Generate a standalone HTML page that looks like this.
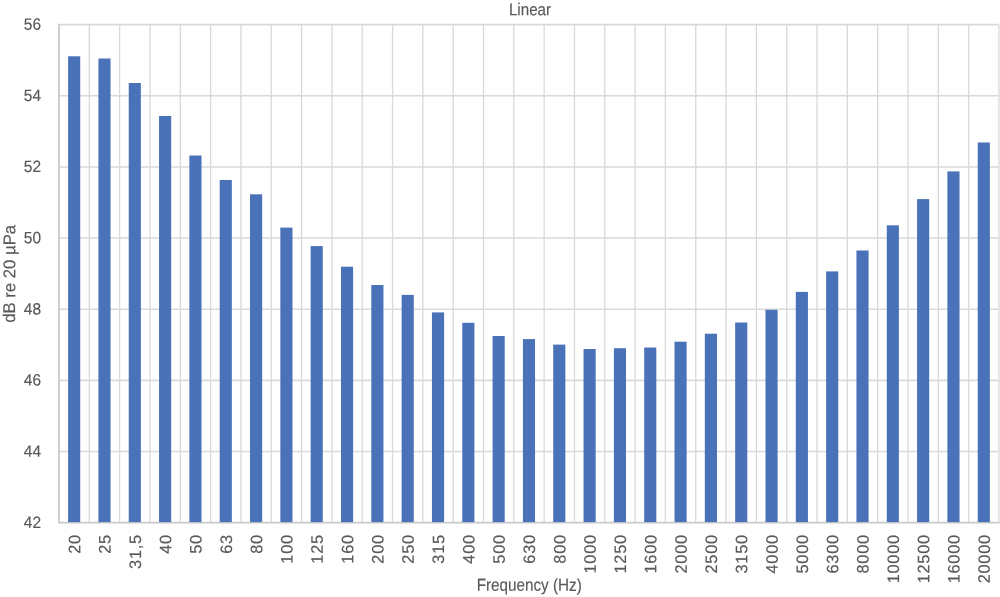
<!DOCTYPE html>
<html lang="en"><head><meta charset="utf-8"><title>Linear</title>
<style>html,body{margin:0;padding:0;background:#fff;overflow:hidden}svg{display:block}text{font-family:"Liberation Sans",sans-serif;fill:#595959;stroke:#595959;stroke-width:0.15}</style>
</head><body>
<svg width="1000" height="597" viewBox="0 0 1000 597">
<rect x="0" y="0" width="1000" height="597" fill="#fff"/>
<g stroke="#D9D9D9" stroke-width="1.55" fill="none">
<line x1="59.00" y1="24.60" x2="998.95" y2="24.60"/>
<line x1="59.00" y1="95.76" x2="998.95" y2="95.76"/>
<line x1="59.00" y1="166.91" x2="998.95" y2="166.91"/>
<line x1="59.00" y1="238.07" x2="998.95" y2="238.07"/>
<line x1="59.00" y1="309.23" x2="998.95" y2="309.23"/>
<line x1="59.00" y1="380.39" x2="998.95" y2="380.39"/>
<line x1="59.00" y1="451.54" x2="998.95" y2="451.54"/>
</g>
<g stroke="#D9D9D9" stroke-width="1.3" fill="none">
<line x1="89.32" y1="24.60" x2="89.32" y2="522.70"/>
<line x1="119.64" y1="24.60" x2="119.64" y2="522.70"/>
<line x1="149.96" y1="24.60" x2="149.96" y2="522.70"/>
<line x1="180.28" y1="24.60" x2="180.28" y2="522.70"/>
<line x1="210.60" y1="24.60" x2="210.60" y2="522.70"/>
<line x1="240.93" y1="24.60" x2="240.93" y2="522.70"/>
<line x1="271.25" y1="24.60" x2="271.25" y2="522.70"/>
<line x1="301.57" y1="24.60" x2="301.57" y2="522.70"/>
<line x1="331.89" y1="24.60" x2="331.89" y2="522.70"/>
<line x1="362.21" y1="24.60" x2="362.21" y2="522.70"/>
<line x1="392.53" y1="24.60" x2="392.53" y2="522.70"/>
<line x1="422.85" y1="24.60" x2="422.85" y2="522.70"/>
<line x1="453.17" y1="24.60" x2="453.17" y2="522.70"/>
<line x1="483.49" y1="24.60" x2="483.49" y2="522.70"/>
<line x1="513.81" y1="24.60" x2="513.81" y2="522.70"/>
<line x1="544.14" y1="24.60" x2="544.14" y2="522.70"/>
<line x1="574.46" y1="24.60" x2="574.46" y2="522.70"/>
<line x1="604.78" y1="24.60" x2="604.78" y2="522.70"/>
<line x1="635.10" y1="24.60" x2="635.10" y2="522.70"/>
<line x1="665.42" y1="24.60" x2="665.42" y2="522.70"/>
<line x1="695.74" y1="24.60" x2="695.74" y2="522.70"/>
<line x1="726.06" y1="24.60" x2="726.06" y2="522.70"/>
<line x1="756.38" y1="24.60" x2="756.38" y2="522.70"/>
<line x1="786.70" y1="24.60" x2="786.70" y2="522.70"/>
<line x1="817.02" y1="24.60" x2="817.02" y2="522.70"/>
<line x1="847.35" y1="24.60" x2="847.35" y2="522.70"/>
<line x1="877.67" y1="24.60" x2="877.67" y2="522.70"/>
<line x1="907.99" y1="24.60" x2="907.99" y2="522.70"/>
<line x1="938.31" y1="24.60" x2="938.31" y2="522.70"/>
<line x1="968.63" y1="24.60" x2="968.63" y2="522.70"/>
<line x1="998.95" y1="24.60" x2="998.95" y2="522.70"/>
</g>
<g stroke="#C9C9C9" stroke-width="1.75" fill="none" stroke-linejoin="round" stroke-linecap="round">
<path d="M59.00 24.60 V522.70 H998.95"/>
</g>
<g fill="#4972B9">
<rect x="68.10" y="56.30" width="12.13" height="465.80"/>
<rect x="98.42" y="58.50" width="12.13" height="463.60"/>
<rect x="128.74" y="83.00" width="12.13" height="439.10"/>
<rect x="159.06" y="116.00" width="12.13" height="406.10"/>
<rect x="189.38" y="155.50" width="12.13" height="366.60"/>
<rect x="219.70" y="180.00" width="12.13" height="342.10"/>
<rect x="250.02" y="194.30" width="12.13" height="327.80"/>
<rect x="280.34" y="227.60" width="12.13" height="294.50"/>
<rect x="310.66" y="246.10" width="12.13" height="276.00"/>
<rect x="340.99" y="266.70" width="12.13" height="255.40"/>
<rect x="371.31" y="285.00" width="12.13" height="237.10"/>
<rect x="401.63" y="294.90" width="12.13" height="227.20"/>
<rect x="431.95" y="312.40" width="12.13" height="209.70"/>
<rect x="462.27" y="322.80" width="12.13" height="199.30"/>
<rect x="492.59" y="336.00" width="12.13" height="186.10"/>
<rect x="522.91" y="339.10" width="12.13" height="183.00"/>
<rect x="553.23" y="344.60" width="12.13" height="177.50"/>
<rect x="583.55" y="349.00" width="12.13" height="173.10"/>
<rect x="613.87" y="348.20" width="12.13" height="173.90"/>
<rect x="644.19" y="347.50" width="12.13" height="174.60"/>
<rect x="674.52" y="341.70" width="12.13" height="180.40"/>
<rect x="704.84" y="333.70" width="12.13" height="188.40"/>
<rect x="735.16" y="322.50" width="12.13" height="199.60"/>
<rect x="765.48" y="309.80" width="12.13" height="212.30"/>
<rect x="795.80" y="291.90" width="12.13" height="230.20"/>
<rect x="826.12" y="271.40" width="12.13" height="250.70"/>
<rect x="856.44" y="250.50" width="12.13" height="271.60"/>
<rect x="886.76" y="225.30" width="12.13" height="296.80"/>
<rect x="917.08" y="199.10" width="12.13" height="323.00"/>
<rect x="947.40" y="171.40" width="12.13" height="350.70"/>
<rect x="977.73" y="142.50" width="12.13" height="379.60"/>
</g>
<g font-size="15.5" text-anchor="end">
<text transform="matrix(1,0.002,0,1.053,41.10,29.80)">56</text>
<text transform="matrix(1,0.002,0,1.053,41.10,100.96)">54</text>
<text transform="matrix(1,0.002,0,1.053,41.10,172.11)">52</text>
<text transform="matrix(1,0.002,0,1.053,41.10,243.27)">50</text>
<text transform="matrix(1,0.002,0,1.053,41.10,314.43)">48</text>
<text transform="matrix(1,0.002,0,1.053,41.10,385.59)">46</text>
<text transform="matrix(1,0.002,0,1.053,41.10,456.74)">44</text>
<text transform="matrix(1,0.002,0,1.053,41.10,527.90)">42</text>
</g>
<g font-size="16.6" text-anchor="end" letter-spacing="0.75">
<text transform="translate(80.31,534.16) rotate(-90) matrix(0.985,0.002,0,1,0,0)">20</text>
<text transform="translate(110.63,534.16) rotate(-90) matrix(0.985,0.002,0,1,0,0)">25</text>
<text transform="translate(140.95,534.16) rotate(-90) matrix(0.985,0.002,0,1,0,0)">31,5</text>
<text transform="translate(171.27,534.16) rotate(-90) matrix(0.985,0.002,0,1,0,0)">40</text>
<text transform="translate(201.59,534.16) rotate(-90) matrix(0.985,0.002,0,1,0,0)">50</text>
<text transform="translate(231.92,534.16) rotate(-90) matrix(0.985,0.002,0,1,0,0)">63</text>
<text transform="translate(262.24,534.16) rotate(-90) matrix(0.985,0.002,0,1,0,0)">80</text>
<text transform="translate(292.56,534.16) rotate(-90) matrix(0.985,0.002,0,1,0,0)">100</text>
<text transform="translate(322.88,534.16) rotate(-90) matrix(0.985,0.002,0,1,0,0)">125</text>
<text transform="translate(353.20,534.16) rotate(-90) matrix(0.985,0.002,0,1,0,0)">160</text>
<text transform="translate(383.52,534.16) rotate(-90) matrix(0.985,0.002,0,1,0,0)">200</text>
<text transform="translate(413.84,534.16) rotate(-90) matrix(0.985,0.002,0,1,0,0)">250</text>
<text transform="translate(444.16,534.16) rotate(-90) matrix(0.985,0.002,0,1,0,0)">315</text>
<text transform="translate(474.48,534.16) rotate(-90) matrix(0.985,0.002,0,1,0,0)">400</text>
<text transform="translate(504.80,534.16) rotate(-90) matrix(0.985,0.002,0,1,0,0)">500</text>
<text transform="translate(535.12,534.16) rotate(-90) matrix(0.985,0.002,0,1,0,0)">630</text>
<text transform="translate(565.45,534.16) rotate(-90) matrix(0.985,0.002,0,1,0,0)">800</text>
<text transform="translate(595.77,534.16) rotate(-90) matrix(0.985,0.002,0,1,0,0)">1000</text>
<text transform="translate(626.09,534.16) rotate(-90) matrix(0.985,0.002,0,1,0,0)">1250</text>
<text transform="translate(656.41,534.16) rotate(-90) matrix(0.985,0.002,0,1,0,0)">1600</text>
<text transform="translate(686.73,534.16) rotate(-90) matrix(0.985,0.002,0,1,0,0)">2000</text>
<text transform="translate(717.05,534.16) rotate(-90) matrix(0.985,0.002,0,1,0,0)">2500</text>
<text transform="translate(747.37,534.16) rotate(-90) matrix(0.985,0.002,0,1,0,0)">3150</text>
<text transform="translate(777.69,534.16) rotate(-90) matrix(0.985,0.002,0,1,0,0)">4000</text>
<text transform="translate(808.01,534.16) rotate(-90) matrix(0.985,0.002,0,1,0,0)">5000</text>
<text transform="translate(838.33,534.16) rotate(-90) matrix(0.985,0.002,0,1,0,0)">6300</text>
<text transform="translate(868.66,534.16) rotate(-90) matrix(0.985,0.002,0,1,0,0)">8000</text>
<text transform="translate(898.98,534.16) rotate(-90) matrix(0.985,0.002,0,1,0,0)">10000</text>
<text transform="translate(929.30,534.16) rotate(-90) matrix(0.985,0.002,0,1,0,0)">12500</text>
<text transform="translate(959.62,534.16) rotate(-90) matrix(0.985,0.002,0,1,0,0)">16000</text>
<text transform="translate(989.94,534.16) rotate(-90) matrix(0.985,0.002,0,1,0,0)">20000</text>
</g>
<text transform="matrix(0.883,0.002,0,1,530.0,15.3)" font-size="17.2" text-anchor="middle">Linear</text>
<text transform="matrix(0.882,0.002,0,1,529.2,590.8)" font-size="17.3" text-anchor="middle">Frequency (Hz)</text>
<text transform="translate(15.2,273.85) rotate(-90) matrix(0.985,0.002,0,1,0,0)" font-size="17.0" text-anchor="middle">dB re 20 µPa</text>
</svg>
</body></html>
